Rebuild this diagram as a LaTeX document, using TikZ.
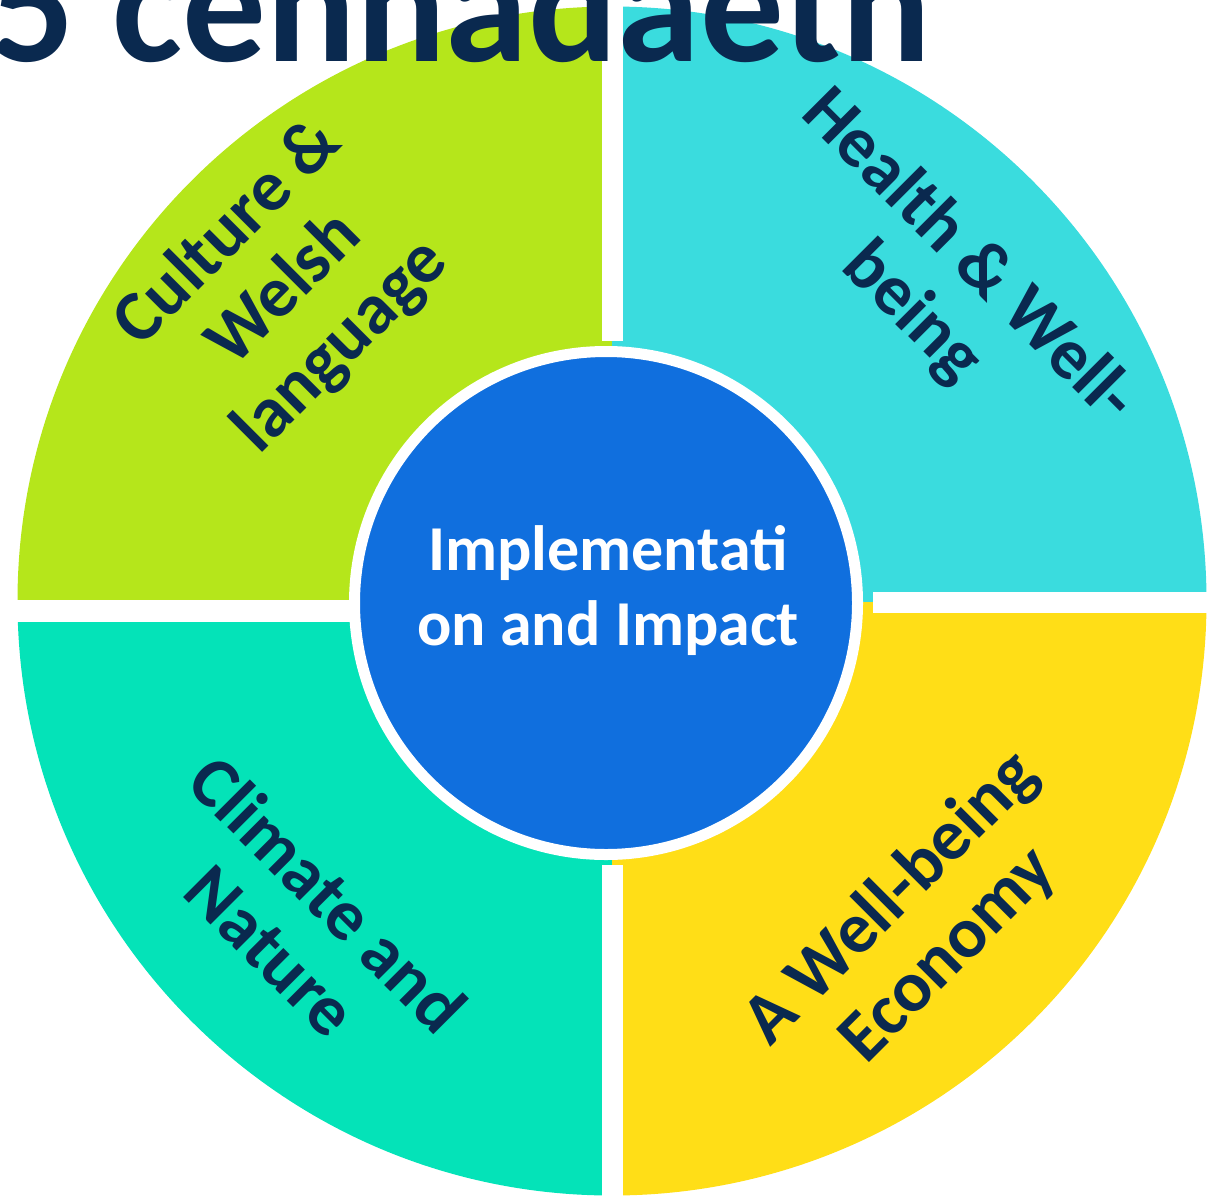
\documentclass[tikz,border=0pt]{standalone}
\usepackage{fontspec}
\setmainfont{Carlito}
\usepackage{tikz}
\definecolor{navy}{HTML}{0A294F}
\definecolor{culturegreen}{HTML}{B5E61B}
\definecolor{healthcyan}{HTML}{3ADCDE}
\definecolor{climateteal}{HTML}{04E3B8}
\definecolor{economyyellow}{HTML}{FFDE17}
\definecolor{hubblue}{HTML}{106FDE}

\begin{document}
\begin{tikzpicture}[x=1pt,y=-1pt,every node/.style={font=\bfseries,inner sep=0pt},
  mission/.style={text=navy,align=center,font=\fontsize{72}{80}\selectfont\bfseries},
  hub/.style={circle,fill=hubblue,draw=white,line width=11pt,minimum size=503pt}]
\useasboundingbox (0,0) rectangle (1217,1196);
\begin{scope}
\clip (612,601) circle[radius=594.5pt];
\fill[culturegreen] (0,0) rectangle (612,611);
\fill[healthcyan] (612,0) rectangle (1217,602);
\fill[climateteal] (0,611) rectangle (612,1196);
\fill[economyyellow] (612,602) rectangle (1217,1196);
\end{scope}
\fill[white] (602,0) rectangle (623,341);
\fill[white] (602,865) rectangle (623,1196);
\fill[white] (0,600) rectangle (350,622);
\fill[white] (873,592) rectangle (1217,613);
\node[hub] (hub) at (606,603) {};
\node[text=white,align=center,font=\fontsize{64}{75}\selectfont\bfseries] (impact) at (608,591) {Implementati\\on and Impact};
\node[mission,rotate=45] (culture) at (285,290) {Culture \&\\Welsh\\language};
\node[mission,rotate=-45] (health) at (940,285) {Health \& Well-\\being};
\node[mission,rotate=-45] (climate) at (300,922) {Climate and\\Nature};
\node[mission,rotate=45] (economy) at (920,927) {A Well-being\\Economy};
\node[text=navy,anchor=base west,font=\fontsize{167}{180}\selectfont\bfseries] (title) at (-10,62) {5 cenhadaeth};
\end{tikzpicture}
\end{document}
